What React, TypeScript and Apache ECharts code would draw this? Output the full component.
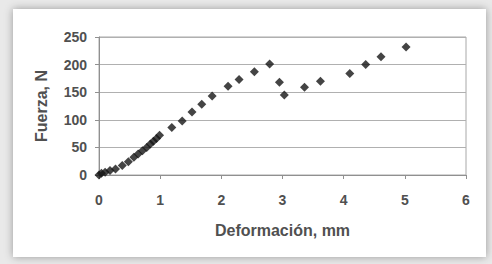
import React, { useEffect, useRef } from "react";
import * as echarts from "echarts";

const deformacion = [0, 0.04, 0.1, 0.18, 0.27, 0.38, 0.48, 0.57, 0.64, 0.71, 0.78, 0.84, 0.89, 0.94, 0.99, 1.19, 1.36, 1.52, 1.68, 1.85, 2.11, 2.29, 2.54, 2.79, 2.95, 3.03, 3.36, 3.62, 4.1, 4.36, 4.61, 5.02];
const fuerza = [0, 3, 5, 8, 11, 17, 24, 32, 38, 44, 50, 56, 61, 66, 72, 86, 98, 114, 128, 143, 161, 173, 187, 201, 168, 145, 159, 170, 184, 200, 214, 232];
const xTitle = "Deformación, mm";
const yTitle = "Fuerza, N";

export default function App() {
  const ref = useRef<HTMLDivElement>(null);
  useEffect(() => {
    const chart = echarts.init(ref.current!, null, { renderer: "svg" });
    const font = "Liberation Sans, Arial, sans-serif";
    chart.setOption({
      animation: false,
      backgroundColor: "#e9e9e9",
      graphic: [
        {
          type: "rect",
          z: -10,
          shape: { x: 13, y: 9, width: 473, height: 248 },
          style: { fill: "#ffffff", shadowBlur: 8, shadowColor: "rgba(0,0,0,0.35)" },
          silent: true,
        },
      ],
      grid: { left: 99, right: 26, top: 37, bottom: 89, show: true, borderColor: "#a8a8a8", borderWidth: 1 },
      xAxis: {
        type: "value",
        min: 0,
        max: 6,
        interval: 1,
        name: xTitle,
        nameLocation: "middle",
        nameGap: 47,
        nameTextStyle: { fontFamily: font, fontSize: 16, fontWeight: "bold", color: "#505050" },
        axisLine: { show: true, lineStyle: { color: "#909090" } },
        axisTick: { show: true, inside: false, length: 4, lineStyle: { color: "#909090" } },
        axisLabel: { margin: 18, fontFamily: font, fontSize: 14, fontWeight: "bold", color: "#505050" },
        splitLine: { show: false },
      },
      yAxis: {
        type: "value",
        min: 0,
        max: 250,
        interval: 50,
        name: yTitle,
        nameLocation: "middle",
        nameRotate: 90,
        nameGap: 50,
        nameTextStyle: { fontFamily: font, fontSize: 16, fontWeight: "bold", color: "#505050" },
        axisLine: { show: true, lineStyle: { color: "#909090" } },
        axisTick: { show: true, inside: false, length: 4, lineStyle: { color: "#909090" } },
        axisLabel: { margin: 12, fontFamily: font, fontSize: 14, fontWeight: "bold", color: "#505050" },
        splitLine: { show: true, lineStyle: { color: "#b0b0b0" } },
      },
      series: [
        {
          type: "scatter",
          data: deformacion.map((x, i) => [x, fuerza[i]]),
          symbol: "diamond",
          symbolSize: 9,
          itemStyle: { color: "#151515" },
        },
      ],
    });
    return () => chart.dispose();
  }, []);
  return <div ref={ref} style={{ position: "fixed", left: 0, top: 0, width: 492, height: 264 }} />;
}
